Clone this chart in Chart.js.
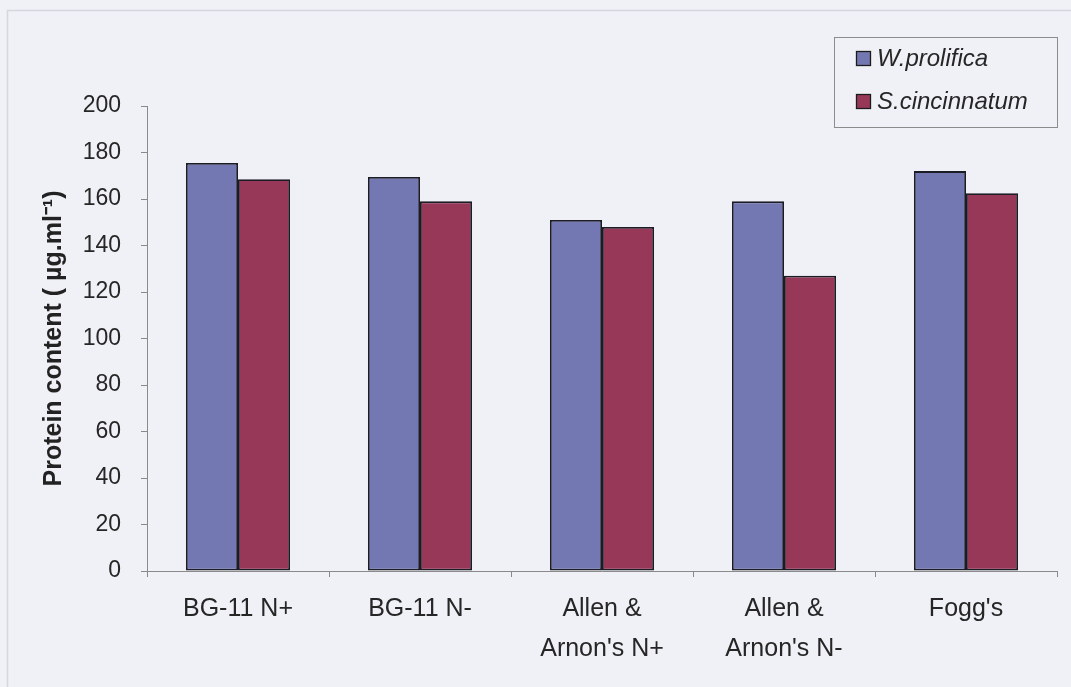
<!DOCTYPE html>
<html>
<head>
<meta charset="utf-8">
<script src="https://cdn.jsdelivr.net/npm/chart.js@4/dist/chart.umd.min.js"></script>
<style>
  html, body { margin: 0; padding: 0; background: #eff1f6; }
  #wrap { width: 1071px; height: 687px; }
</style>
</head>
<body>
<div id="wrap"><canvas id="c" width="1071" height="687"></canvas></div>
<script>
// Culture media (x categories)
const media = ["BG-11 N+", "BG-11 N-", ["Allen &", "Arnon's N+"], ["Allen &", "Arnon's N-"], "Fogg's"];
// Protein content per medium, µg/ml
const wProlifica    = [175.5, 169.5, 151, 159, 172];
const sCincinnatum  = [168.5, 159, 148, 127, 162.5];
const seriesNames   = ["W.prolifica", "S.cincinnatum"];
const yTicks        = { min: 0, max: 200, step: 20 };

const FONT = "'Liberation Sans', Arial, Helvetica, sans-serif";
const BG = '#eff1f6';
const BLUE = '#7378b2';
const RED = '#983859';

// Page background and the thin frame round the figure
const backdrop = {
  id: 'backdrop',
  beforeDraw(chart) {
    const ctx = chart.ctx;
    ctx.save();
    ctx.fillStyle = BG;
    ctx.fillRect(0, 0, chart.width, chart.height);
    ctx.strokeStyle = '#d3d7e0';
    ctx.lineWidth = 1.5;
    ctx.strokeRect(7.5, 10.5, chart.width + 20, chart.height + 20);
    ctx.restore();
  }
};

// Boxed legend in the top-right corner
const boxLegend = {
  id: 'boxLegend',
  afterDraw(chart) {
    const ctx = chart.ctx;
    const x0 = 834.5, y0 = 37.5, w = 223, h = 90;
    ctx.save();
    ctx.fillStyle = BG;
    ctx.fillRect(x0, y0, w, h);
    ctx.strokeStyle = '#8c8c8c';
    ctx.lineWidth = 1;
    ctx.strokeRect(x0, y0, w, h);
    ctx.font = 'italic 24px ' + FONT;
    ctx.textBaseline = 'middle';
    ctx.textAlign = 'left';
    const rows = [58, 101];
    chart.data.datasets.forEach((ds, i) => {
      const cy = rows[i];
      ctx.fillStyle = ds.backgroundColor;
      ctx.fillRect(856, cy - 7, 15, 15);
      ctx.strokeStyle = '#1c1c1c';
      ctx.lineWidth = 1.3;
      ctx.strokeRect(856.5, cy - 6.5, 14, 14);
      ctx.fillStyle = '#262626';
      ctx.fillText(ds.label, 877, cy + 1);
    });
    ctx.restore();
  }
};

new Chart(document.getElementById('c'), {
  type: 'bar',
  data: {
    labels: media,
    datasets: [
      { label: seriesNames[0], data: wProlifica, backgroundColor: BLUE,
        borderColor: '#1c1c26', borderWidth: 1.8, borderSkipped: false },
      { label: seriesNames[1], data: sCincinnatum, backgroundColor: RED,
        borderColor: '#1c1c26', borderWidth: 1.8, borderSkipped: false }
    ]
  },
  options: {
    responsive: false,
    animation: false,
    devicePixelRatio: 1,
    layout: { padding: { top: 106, right: 14, left: 0, bottom: 0 } },
    datasets: { bar: { barPercentage: 1.0, categoryPercentage: 0.572 } },
    plugins: {
      legend: { display: false },
      tooltip: { enabled: false }
    },
    scales: {
      x: {
        offset: true,
        grid: { display: true, offset: true, drawOnChartArea: false, drawTicks: true,
                tickLength: 6, color: '#8a8a8a', lineWidth: 1 },
        border: { display: true, color: '#8a8a8a', width: 1 },
        ticks: { color: '#262626', padding: 12, maxRotation: 0, autoSkip: false,
                 font: { family: FONT, size: 25, lineHeight: 1.6 } },
        afterFit(scale) { scale.height = 116; }
      },
      y: {
        min: yTicks.min, max: yTicks.max,
        grid: { display: true, drawOnChartArea: false, drawTicks: true,
                tickLength: 6, color: '#8a8a8a', lineWidth: 1 },
        border: { display: true, color: '#8a8a8a', width: 1 },
        ticks: { stepSize: yTicks.step, color: '#262626', padding: 20,
                 font: { family: FONT, size: 23 } },
        title: {
          display: true,
          text: 'Protein content ( µg.ml\u207B\u00B9)',
          color: '#222',
          font: { family: FONT, size: 25, weight: 'bold' },
          padding: { top: 39, bottom: 0 }
        },
        afterFit(scale) { scale.width = 147; }
      }
    }
  },
  plugins: [backdrop, boxLegend]
});
</script>
</body>
</html>
